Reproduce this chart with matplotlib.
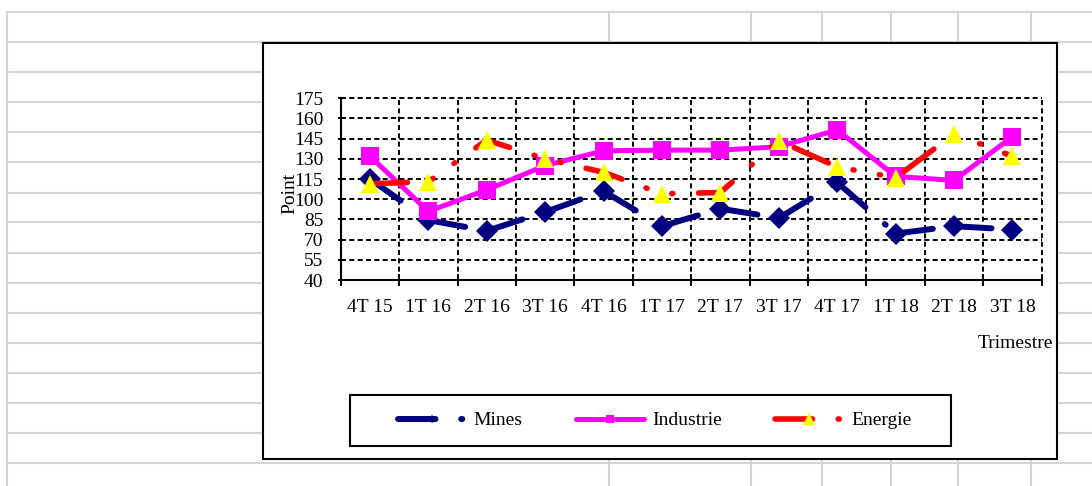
import numpy as np
import matplotlib
matplotlib.use("Agg")
import matplotlib.pyplot as plt
from matplotlib.lines import Line2D
from matplotlib.patches import Rectangle

plt.rcParams['font.family'] = ['Liberation Serif', 'DejaVu Serif']
plt.rcParams['lines.scale_dashes'] = False

# data
quarters = ['4T 15', '1T 16', '2T 16', '3T 16', '4T 16', '1T 17',
            '2T 17', '3T 17', '4T 17', '1T 18', '2T 18', '3T 18']
mines = [115, 84.5, 76.5, 90.5, 106, 80, 93, 86, 112.5, 74.5, 80, 77.5]
industrie = [132, 91, 107, 125, 136, 136.5, 136.5, 139, 151.5, 117, 114, 146.5]
energie = [111.5, 113, 144, 130, 120, 104, 105, 143.5, 124, 116, 148.5, 132]
yticks = np.arange(40, 176, 15)

W, H = 1092, 486
fig = plt.figure(figsize=(W / 100, H / 100), dpi=100)

def fx(px):
    return px / W

def fy(py):
    return 1 - py / H

# spreadsheet grid behind the chart
sheet = '#d4d4d4'
for yy in np.arange(12.5, H, 30):
    fig.add_artist(Line2D([fx(7), 1], [fy(yy), fy(yy)], color=sheet, lw=1.5, zorder=-3))
for xx in [7, 609, 751, 822, 891, 958, 1031]:
    fig.add_artist(Line2D([fx(xx), fx(xx)], [fy(12.5), 0], color=sheet, lw=1.5, zorder=-3))

# chart area box
fig.add_artist(Rectangle((fx(263), fy(459)), fx(1057) - fx(263), fy(43) - fy(459),
                         facecolor='white', edgecolor='black', lw=1.5, zorder=-1))

ax = fig.add_axes([fx(340.7), fy(280), fx(1041.7) - fx(340.7), fy(98.3) - fy(280)])
ax.set_facecolor('none')

x = np.arange(len(quarters)) + 0.5
dashdotdot = (0, (27, 18.5, 0.8, 18.5, 0.8, 18.5))

# Mines: pattern restarts on each segment (as drawn by the original)
for i in range(len(x) - 1):
    ax.plot(x[i:i + 2], mines[i:i + 2], color='#000080', lw=4.3, ls=dashdotdot,
            dash_capstyle='round', zorder=3)
ax.plot(x, mines, ls='none', marker='D', ms=11.5, color='#000080', mew=0, zorder=3.1)

ax.plot(x, industrie, color='#ff00ff', lw=3.6, marker='s', ms=13, mew=0,
        solid_capstyle='round', zorder=4)

ax.plot(x, energie, color='#ff0000', lw=4, ls=dashdotdot, dash_capstyle='round', zorder=5)
ax.plot(x, energie, ls='none', marker='^', ms=12.5, color='#ffff00', mew=0, zorder=5.1)

ax.set_xlim(0, 12)
ax.set_ylim(40, 175)
ax.set_yticks(yticks)
ax.set_xticks(np.arange(13))
ax.set_xticklabels([])
ax.set_xticks(x, minor=True)
ax.set_xticklabels(quarters, minor=True)

ax.tick_params(axis='y', direction='inout', length=5, width=1.4, pad=10, labelsize=14)
ax.tick_params(axis='x', which='major', direction='inout', length=8, width=1.4)
ax.tick_params(axis='x', which='minor', length=0, pad=13.5, labelsize=14)

ax.grid(True, which='major', color='black', lw=1.4, ls=(0, (3.6, 2.4)))
for gl in ax.get_xgridlines() + ax.get_ygridlines():
    gl.set_clip_on(False)

for s in ['top', 'right']:
    ax.spines[s].set_visible(False)
for s in ['left', 'bottom']:
    ax.spines[s].set_linewidth(1.5)

ax.text(-0.072, 0.479, 'Point', transform=ax.transAxes, rotation=90,
        ha='center', va='center', fontsize=14)
fig.text(fx(1053), fy(344), 'Trimestre', ha='right', va='center', fontsize=14)

# legend
fig.add_artist(Rectangle((fx(350), fy(446)), fx(951) - fx(350), fy(395) - fy(446),
                         facecolor='white', edgecolor='black', lw=1.5, zorder=-0.5))
handles = [
    Line2D([], [], color='#000080', lw=4.3, ls=dashdotdot, dash_capstyle='round',
           marker='D', ms=4, mew=0),
    Line2D([], [], color='#ff00ff', lw=3.6, solid_capstyle='round',
           marker='s', ms=6, mew=0),
    Line2D([], [], color='#ff0000', lw=4, ls=dashdotdot, dash_capstyle='round',
           marker='^', ms=8, mfc='#ffff00', mec='#ffff00', mew=0),
]
fig.legend(handles, ['Mines', 'Industrie', 'Energie'], loc='center left',
           bbox_to_anchor=(fx(398), fy(420.5)), ncol=3, frameon=False,
           fontsize=14, handlelength=3.5, handletextpad=0.4, columnspacing=2.75,
           borderpad=0, borderaxespad=0)

fig.savefig('out.png', dpi=100)
